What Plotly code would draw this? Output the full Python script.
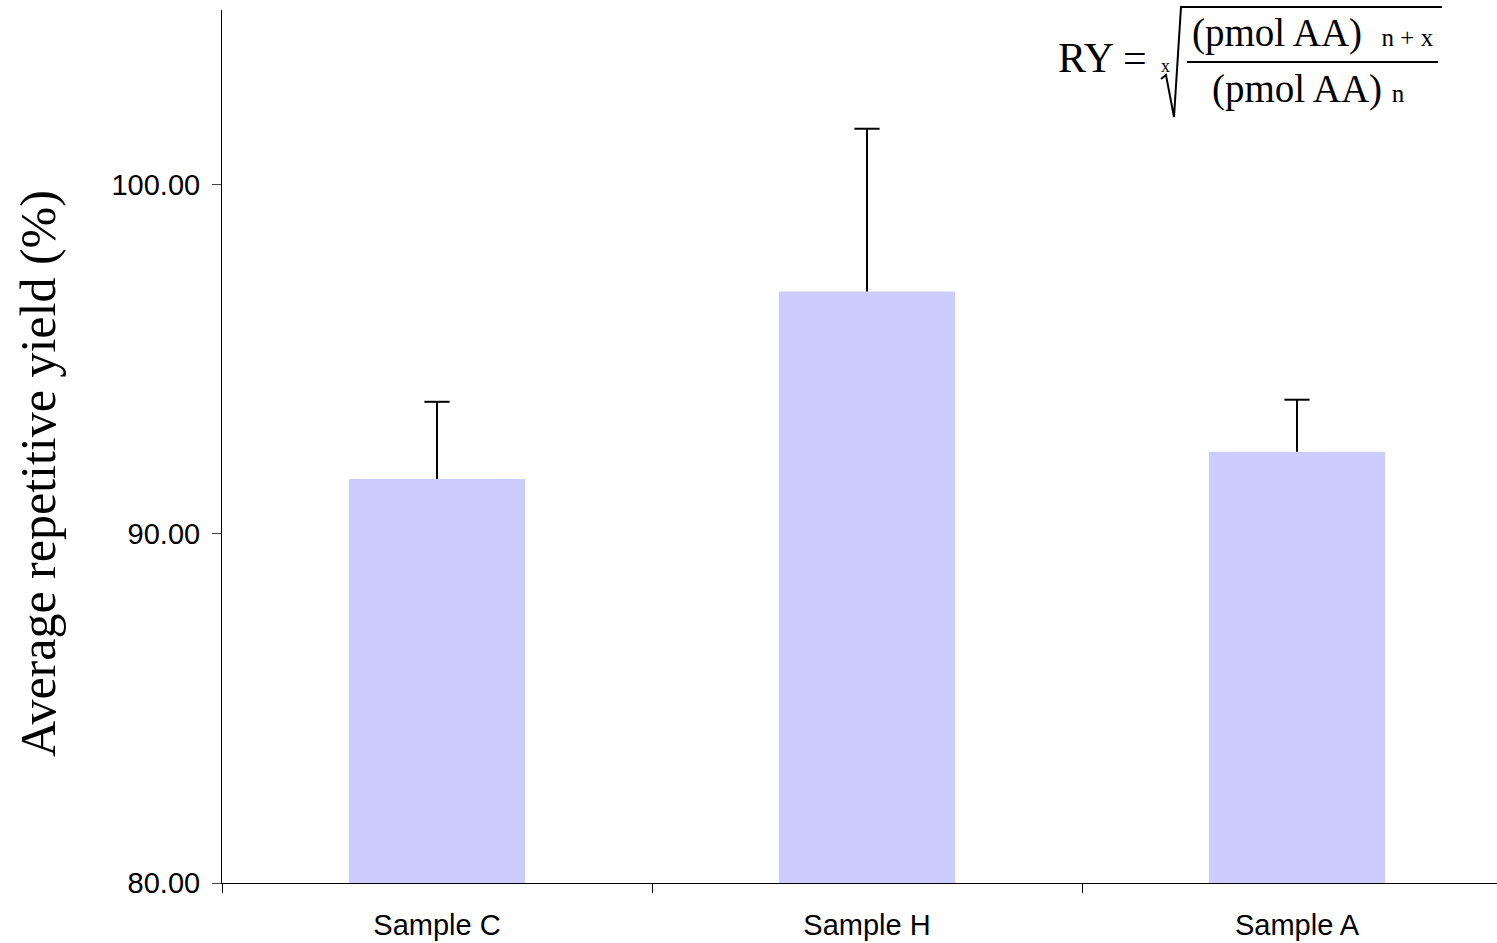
import plotly.graph_objects as go

categories = ["Sample C", "Sample H", "Sample A"]
means = [91.57, 96.94, 92.35]
errors_up = [2.21, 4.66, 1.49]
y_tickvals = [80, 90, 100]
y_ticktext = ["80.00", "90.00", "100.00"]

W, H = 1497, 943
ML, MR, MT, MB = 222, 0, 10, 60
PW, PH = W - ML - MR, H - MT - MB


def px(x):
    return (x - ML) / PW


def py(y):
    return (H - MB - y) / PH


fig = go.Figure()
fig.add_trace(go.Bar(
    x=categories, y=means, width=0.41,
    marker=dict(color="#CCCCFF", line=dict(width=0)),
    hoverinfo="skip",
))

# upper error bars: stems and caps built from the data
stem_x, stem_y = [], []
for c, m, e in zip(categories, means, errors_up):
    stem_x += [c, c, None]
    stem_y += [m, m + e, None]
fig.add_trace(go.Scatter(
    x=stem_x, y=stem_y, mode="lines",
    line=dict(color="black", width=2), hoverinfo="skip",
))
fig.add_trace(go.Scatter(
    x=categories, y=[m + e for m, e in zip(means, errors_up)], mode="markers",
    marker=dict(symbol="line-ew", size=18, line=dict(color="black", width=2)),
    hoverinfo="skip",
))

serif = "Liberation Serif, Times New Roman, serif"
sans = "Liberation Sans, Arial, sans-serif"

fig.update_layout(
    width=W, height=H,
    margin=dict(l=ML, r=MR, t=MT, b=MB, pad=0),
    plot_bgcolor="white", paper_bgcolor="white",
    showlegend=False,
)
fig.update_xaxes(
    type="category", range=[-0.5, -0.5 + PW / 430.0],
    showline=True, linecolor="black", linewidth=1,
    ticks="outside", tickson="boundaries", ticklen=9, tickcolor="black",
    showgrid=False, zeroline=False, ticklabelstandoff=16,
    tickfont=dict(family=sans, size=29, color="black"),
)
fig.update_yaxes(
    range=[80, 105], tickvals=y_tickvals, ticktext=y_ticktext,
    showline=True, linecolor="black", linewidth=1,
    ticks="outside", ticklen=9, tickcolor="#444444",
    showgrid=False, zeroline=False, ticklabelstandoff=6,
    tickfont=dict(family=sans, size=29, color="black"),
)

# y-axis title
fig.add_annotation(
    text="Average repetitive yield (%)", textangle=-90,
    xref="paper", yref="paper", x=px(38), y=py(474),
    xanchor="center", yanchor="middle", showarrow=False,
    font=dict(family=serif, size=50, color="black"),
)

# formula
fig.add_annotation(
    text="RY =", xref="paper", yref="paper", x=px(1056), y=py(58),
    xanchor="left", yanchor="middle", showarrow=False,
    font=dict(family=serif, size=42, color="black"),
)
fig.add_annotation(
    text="x", xref="paper", yref="paper", x=px(1165), y=py(66),
    xanchor="center", yanchor="middle", showarrow=False,
    font=dict(family=serif, size=18, color="black"),
)
fig.add_annotation(
    text="(pmol AA)&nbsp; <span style='font-size:25px'>n + x</span>",
    xref="paper", yref="paper", x=px(1190), y=py(33),
    xanchor="left", yanchor="middle", showarrow=False,
    font=dict(family=serif, size=39, color="black"),
)
fig.add_annotation(
    text="(pmol AA)&nbsp;<span style='font-size:25px'>n</span>",
    xref="paper", yref="paper", x=px(1210), y=py(89),
    xanchor="left", yanchor="middle", showarrow=False,
    font=dict(family=serif, size=39, color="black"),
)
# radical sign
path = "M {},{} L {},{} L {},{} L {},{} L {},{}".format(
    px(1161), py(79), px(1166), py(75), px(1174), py(117),
    px(1181), py(7), px(1442), py(7))
fig.add_shape(type="path", path=path, xref="paper", yref="paper",
              line=dict(color="black", width=2))
# fraction bar
fig.add_shape(type="line", xref="paper", yref="paper",
              x0=px(1187), x1=px(1438), y0=py(62), y1=py(62),
              line=dict(color="black", width=2))

fig.write_html("out.html")
